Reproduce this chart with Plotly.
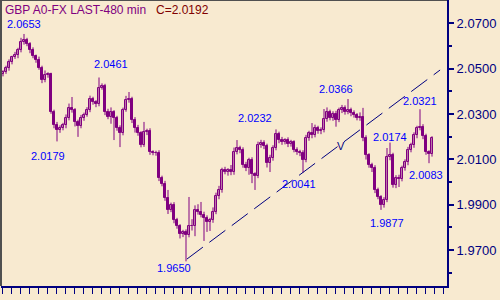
import plotly.graph_objects as go

# ---- data (GBP 480-min bars) ----
closes = [
    2.0485, 2.0503, 2.0529, 2.0551, 2.0560, 2.0582, 2.0618, 2.0626, 2.0609, 2.0582,
    2.0556, 2.0538, 2.0503, 2.0450, 2.0472, 2.0476, 2.0309, 2.0251, 2.0229, 2.0238,
    2.0251, 2.0282, 2.0326, 2.0318, 2.0265, 2.0247, 2.0282, 2.0296, 2.0318, 2.0366,
    2.0353, 2.0344, 2.0415, 2.0423, 2.0309, 2.0287, 2.0309, 2.0282, 2.0238, 2.0216,
    2.0318, 2.0362, 2.0366, 2.0274, 2.0238, 2.0216, 2.0163, 2.0221, 2.0225, 2.0132,
    2.0128, 2.0128, 2.0018, 1.9991, 1.9929, 1.9877, 1.9899, 1.9832, 1.9806, 1.9771,
    1.9779, 1.9766, 1.9806, 1.9806, 1.9877, 1.9868, 1.9854, 1.9841, 1.9824, 1.9832,
    1.9868, 1.9938, 1.9965, 2.0053, 2.0044, 2.0053, 2.0044, 2.0132, 2.0150, 2.0141,
    2.0075, 2.0062, 2.0097, 2.0035, 2.0027, 2.0163, 2.0172, 2.0159, 2.0084, 2.0106,
    2.0150, 2.0212, 2.0185, 2.0176, 2.0185, 2.0168, 2.0176, 2.0141, 2.0132, 2.0128,
    2.0097, 2.0194, 2.0216, 2.0207, 2.0238, 2.0225, 2.0229, 2.0278, 2.0309, 2.0282,
    2.0300, 2.0274, 2.0318, 2.0326, 2.0309, 2.0318, 2.0304, 2.0296, 2.0282, 2.0287,
    2.0194, 2.0119, 2.0075, 2.0062, 1.9965, 1.9934, 1.9899, 1.9921, 2.0110, 2.0119,
    1.9987, 2.0018, 2.0013, 2.0062, 2.0088, 2.0141, 2.0163, 2.0207, 2.0238, 2.0243,
    2.0203, 2.0132, 2.0124, 2.0192,
]
first_open = 2.0476

# wick lengths in pips
upper_wick_pips = [
    8, 10, 12, 6, 14, 10, 18, 27, 10, 8,
    12, 6, 15, 10, 20, 8, 6, 10, 14, 12,
    10, 16, 20, 49, 8, 10, 14, 10, 12, 15,
    10, 8, 46, 12, 10, 14, 20, 8, 10, 12,
    10, 18, 31, 10, 12, 14, 8, 44, 10, 12,
    8, 10, 12, 10, 14, 36, 10, 12, 10, 8,
    10, 12, 128, 30, 20, 25, 44, 15, 12, 10,
    20, 15, 18, 10, 14, 8, 22, 20, 35, 10,
    12, 14, 10, 12, 8, 15, 14, 12, 10, 14,
    12, 20, 10, 14, 8, 12, 10, 8, 12, 10,
    12, 14, 10, 44, 15, 10, 12, 44, 20, 10,
    12, 14, 10, 14, 12, 48, 10, 12, 8, 20,
    40, 12, 8, 10, 12, 10, 8, 12, 40, 55,
    10, 12, 14, 10, 12, 14, 10, 12, 10, 78,
    12, 10, 8, 10,
]
lower_wick_pips = [
    10, 8, 12, 10, 8, 14, 10, 12, 10, 14,
    10, 12, 8, 14, 10, 12, 8, 14, 50, 12,
    10, 14, 10, 12, 20, 48, 10, 12, 8, 10,
    12, 14, 10, 8, 14, 10, 30, 97, 12, 62,
    10, 8, 12, 14, 20, 12, 10, 8, 14, 12,
    10, 12, 14, 10, 12, 18, 10, 14, 12, 20,
    14, 116, 10, 20, 45, 12, 10, 101, 44, 40,
    12, 10, 14, 12, 10, 16, 14, 12, 10, 14,
    12, 14, 30, 40, 62, 10, 12, 14, 20, 40,
    12, 10, 14, 12, 10, 14, 12, 10, 12, 14,
    56, 10, 12, 14, 10, 12, 14, 10, 12, 10,
    12, 30, 10, 14, 12, 10, 14, 12, 10, 12,
    14, 20, 12, 18, 14, 10, 22, 12, 10, 14,
    12, 14, 35, 10, 12, 14, 10, 12, 14, 10,
    14, 12, 41, 12,
]

# trend line (bar index, price)
trend_x = [61.3, 145.7]
trend_y = [1.9660, 2.0494]

ytick_vals = [1.97, 1.99, 2.01, 2.03, 2.05, 2.07]
yminor_vals = [1.96, 1.98, 2.00, 2.02, 2.04, 2.06]

# price labels: (text, pixel-x centre, pixel-y centre)
labels = [
    ("2.0653", 23.5, 24), ("2.0461", 110.5, 64), ("2.0179", 48, 156),
    ("1.9650", 173.5, 267.5), ("2.0232", 255, 117.5), ("2.0041", 298.5, 184),
    ("2.0366", 336, 89), ("2.0174", 390, 136.5), ("2.0321", 419.5, 101),
    ("1.9877", 387, 222.5), ("2.0083", 426, 175),
]

# ---- build OHLC ----
opens = [first_open] + closes[:-1]
highs = [max(o, c) + u / 10000 for o, c, u in zip(opens, closes, upper_wick_pips)]
lows = [min(o, c) - d / 10000 for o, c, d in zip(opens, closes, lower_wick_pips)]
xs = list(range(len(closes)))

BG = "#F8EAD0"
PURPLE = "#800080"
NAVY = "#000080"

# wicks
wx, wy = [], []
for i, h, l in zip(xs, highs, lows):
    wx += [i, i, None]
    wy += [l, h, None]

up = [i for i in xs if closes[i] >= opens[i]]
dn = [i for i in xs if closes[i] < opens[i]]

fig = go.Figure()
fig.add_trace(go.Scatter(x=wx, y=wy, mode="lines", line=dict(color=PURPLE, width=1),
                         showlegend=False, hoverinfo="skip"))
fig.add_trace(go.Bar(
    x=up, base=[opens[i] for i in up], y=[closes[i] - opens[i] for i in up],
    width=0.75, marker=dict(color=BG, line=dict(color=PURPLE, width=1)),
    showlegend=False, hoverinfo="skip"))
fig.add_trace(go.Bar(
    x=dn, base=[closes[i] for i in dn], y=[opens[i] - closes[i] for i in dn],
    width=0.75, marker=dict(color=PURPLE, line=dict(color=PURPLE, width=1)),
    showlegend=False, hoverinfo="skip"))
fig.add_trace(go.Scatter(
    x=trend_x, y=trend_y, mode="lines",
    line=dict(color=NAVY, width=1, dash="20px,8px"),
    showlegend=False, hoverinfo="skip",
))

W_L, W_R, H_T, H_B = 1, 447, 0, 286
def px(x):
    return (x - W_L) / (W_R - W_L)
def py(y):
    return 1 - (y - H_T) / (H_B - H_T)

FONT = "Liberation Sans, Arial"
ann = []
for t, x, y in labels:
    ann.append(dict(text=t, x=px(x), y=py(y), xref="paper", yref="paper",
                    showarrow=False, xanchor="center", yanchor="middle",
                    font=dict(family=FONT, size=11, color="#0000FF")))
ann.append(dict(text="V", x=px(340.5), y=py(146), xref="paper", yref="paper",
                showarrow=False, xanchor="center", yanchor="middle",
                font=dict(family=FONT, size=11, color=NAVY)))
ann.append(dict(text="GBP A0-FX LAST-480 min", x=px(3), y=py(9.5), xref="paper", yref="paper",
                showarrow=False, xanchor="left", yanchor="middle",
                font=dict(family=FONT, size=12, color=PURPLE)))
ann.append(dict(text="C=%.4f" % closes[-1], x=px(154), y=py(9.5), xref="paper", yref="paper",
                showarrow=False, xanchor="left", yanchor="middle",
                font=dict(family=FONT, size=12, color="#800000")))

fig.update_layout(
    width=500, height=300,
    margin=dict(l=W_L, r=500 - W_R, t=H_T, b=300 - H_B),
    paper_bgcolor=BG, plot_bgcolor=BG,
    barmode="overlay", bargap=0,
    annotations=ann,
    shapes=[
        dict(type="line", xref="paper", yref="paper", x0=0, x1=0, y0=0, y1=1,
             line=dict(color="#505050", width=2)),
        dict(type="line", xref="paper", yref="paper", x0=0, x1=1, y0=1, y1=1,
             line=dict(color="#505050", width=2)),
    ],
    xaxis=dict(range=[-0.667, 148],
               showgrid=False, zeroline=False, showticklabels=False,
               showline=True, linecolor=NAVY, linewidth=2,
               ticks="outside", ticklen=6, tickcolor=NAVY, tickwidth=1,
               tick0=-0.1, dtick=3),
    yaxis=dict(range=[1.95413, 2.08028], side="right",
               showgrid=False, zeroline=False,
               showline=True, linecolor=NAVY, linewidth=2,
               ticks="outside", ticklen=5, tickcolor=NAVY, tickwidth=2,
               tickvals=ytick_vals, tickformat=".4f",
               tickfont=dict(family=FONT, size=13, color=NAVY),
               minor=dict(tickvals=yminor_vals,
                          ticks="outside", ticklen=3, tickcolor=NAVY, tickwidth=2)),
)

fig.write_html("out.html")
